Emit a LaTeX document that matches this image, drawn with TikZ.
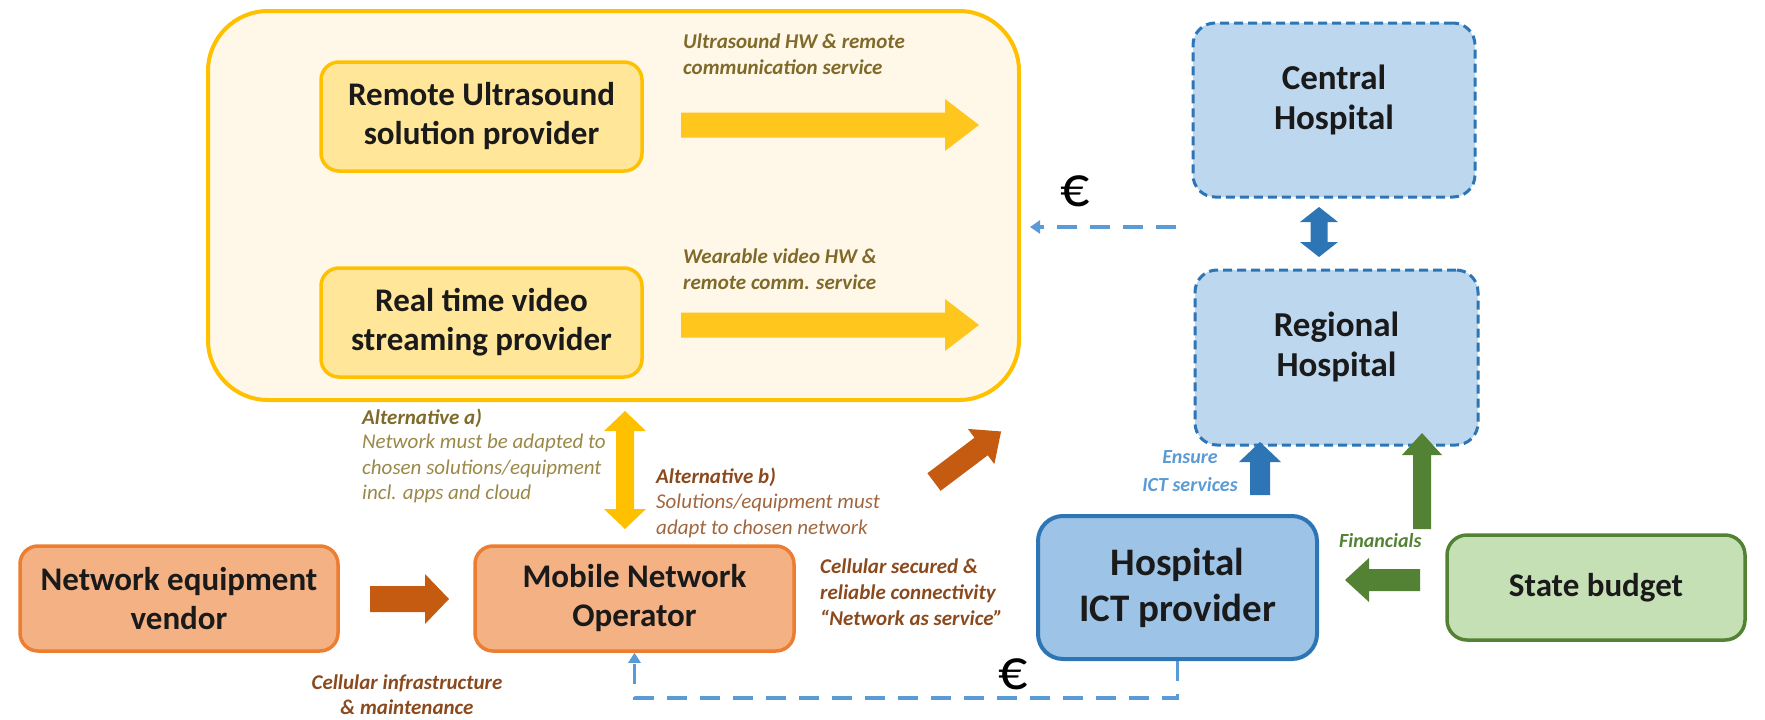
\documentclass[tikz,border=0pt]{standalone}
\usepackage{fontspec}
\setmainfont{Carlito}
\usetikzlibrary{arrows.meta,calc}
\definecolor{ybord}{HTML}{FFC000}
\definecolor{yfill}{HTML}{FFF7E8}
\definecolor{yinner}{HTML}{FFE699}
\definecolor{yarrow}{HTML}{FFC61E}
\definecolor{olivetxt}{HTML}{7F6A2A}
\definecolor{olivelt}{HTML}{9A8848}
\definecolor{obord}{HTML}{ED7D31}
\definecolor{ofill}{HTML}{F4B183}
\definecolor{oarrow}{HTML}{C55A11}
\definecolor{browntxt}{HTML}{8B4A1E}
\definecolor{brownlt}{HTML}{A0663E}
\definecolor{bbord}{HTML}{2E75B6}
\definecolor{bfill}{HTML}{9DC3E6}
\definecolor{bfilllt}{HTML}{BDD7EE}
\definecolor{blt}{HTML}{5B9BD5}
\definecolor{gbord}{HTML}{548235}
\definecolor{gfill}{HTML}{C5E0B4}
\definecolor{boxtxt}{HTML}{1A1A1A}
\newcommand\fsz[2]{\fontsize{#1}{#2}\selectfont}
% color, x, y, angle, length, shaft half, head half, head length
\newcommand\fatarr[8]{\fill[#1,shift={(#2,#3)},rotate=#4] (0,-#6) -- ({#5-#8},-#6) -- ({#5-#8},-#7) -- (#5,0) -- ({#5-#8},#7) -- ({#5-#8},#6) -- (0,#6) -- cycle;}
\newcommand\dblarr[8]{\fill[#1,shift={(#2,#3)},rotate=#4] (0,0) -- (#8,-#7) -- (#8,-#6) -- ({#5-#8},-#6) -- ({#5-#8},-#7) -- (#5,0) -- ({#5-#8},#7) -- ({#5-#8},#6) -- (#8,#6) -- (#8,#7) -- cycle;}
\newcommand\lift{\rule[-26pt]{0pt}{0pt}}
\tikzset{
  box/.style={rectangle, align=center, text=boxtxt, font=\bfseries\fsz{33}{39}, inner sep=0pt},
  ybox/.style={box, draw=ybord, fill=yinner, line width=3.5pt, rounded corners=18pt},
  obox/.style={box, draw=obord, fill=ofill, line width=3.5pt, rounded corners=18pt},
  hbox/.style={box, draw=bbord, fill=bfilllt, line width=3pt, dash pattern=on 9pt off 5pt, rounded corners=22pt, font=\bfseries\fsz{35}{40}},
  lbl/.style={inner sep=0pt, align=left, anchor=north west, font=\bfseries\itshape\fsz{21}{26}},
  lblr/.style={inner sep=0pt, align=left, anchor=north west, font=\itshape\fsz{21}{25.5}},
  euro/.style={inner sep=0pt, font=\fsz{58}{60}, text=black},
  money/.style={draw=blt, line width=3.5pt, dash pattern=on 20pt off 13pt},
}
\begin{document}
\begin{tikzpicture}[x=1pt,y=-1pt]
\useasboundingbox (0,0) rectangle (1765,720);
% outer yellow container
\node[draw=ybord, fill=yfill, line width=4pt, rounded corners=60pt, minimum width=811pt, minimum height=389pt, inner sep=0pt] (sol) at (613.5,205.5) {};
\node[ybox, minimum width=321pt, minimum height=109pt] (rus) at (481.5,116.5) {Remote Ultrasound\\solution provider};
\node[ybox, minimum width=321pt, minimum height=109pt] (rtv) at (481.5,322.5) {Real time video\\streaming provider};
\fatarr{yarrow}{681}{125}{0}{298}{12.5}{26}{34}
\fatarr{yarrow}{681}{325}{0}{298}{12.5}{26}{34}
\node[lbl, text=olivetxt] (l1) at (683,34) {Ultrasound HW \& remote\\communication service};
\node[lbl, text=olivetxt] (l2) at (683,249) {Wearable video HW \&\\remote comm. service};
% hospitals
\node[hbox, minimum width=282pt, minimum height=174pt] (ch) at (1334,110) {Central\\Hospital\lift};
\node[hbox, minimum width=283pt, minimum height=175pt] (rh) at (1336.5,357.5) {Regional\\Hospital\lift};
\dblarr{bbord}{1319}{257}{90}{50}{8.5}{19}{15}
\node[euro] (e1) at (1075,191) {€};
\coordinate (m1s) at (1176,227);
\coordinate (m1e) at (1030,227);
\draw[money, -{Triangle[length=10pt,width=13pt]}] (m1s) -- (m1e);
% alternatives
\dblarr{ybord}{625}{529}{90}{118}{9}{21}{20}
\node[lbl, text=olivetxt] (alta) at (362,409) {Alternative a)};
\node[lblr, text=olivelt, anchor=north west] (alta2) at (362,434) {Network must be adapted to\\chosen solutions/equipment\\incl. apps and cloud};
\node[lbl, text=browntxt] (altb) at (656,468) {Alternative b)};
\node[lblr, text=brownlt] (altb2) at (656,494) {Solutions/equipment must\\adapt to chosen network};
\fatarr{oarrow}{934}{482}{37}{84}{11}{22}{25}
% network row
\node[obox, minimum width=318pt, minimum height=105pt] (nev) at (179,598.5) {Network equipment\\vendor};
\node[obox, minimum width=319pt, minimum height=105pt] (mno) at (634.5,598.5) {Mobile Network\\Operator};
\fatarr{oarrow}{370}{599}{0}{79}{13}{25}{24}
\node[lbl, text=browntxt, align=center, anchor=north, font=\bfseries\itshape\fsz{21}{25}] (l3) at (407,675) {Cellular infrastructure\\\& maintenance};
\node[lbl, text=browntxt] (l4) at (820,559) {Cellular secured \&\\reliable connectivity\\“Network as service”};
% hospital ICT and budget
\node[box, draw=bbord, fill=bfill, line width=4pt, rounded corners=25pt, minimum width=279pt, minimum height=143pt, font=\bfseries\fsz{39}{46}] (hict) at (1177.5,587.5) {Hospital\\ICT provider};
\node[box, draw=gbord, fill=gfill, line width=3.5pt, rounded corners=20pt, minimum width=298pt, minimum height=105pt] (sb) at (1596,587.5) {State budget};
\fatarr{gbord}{1420}{580}{180}{75}{11}{22}{24}
\fatarr{gbord}{1422}{529}{90}{96}{9}{20}{22}
\node[lbl, text=gbord, font=\bfseries\itshape\fsz{20}{24}] (fin) at (1339,533) {Financials};
\fatarr{bbord}{1260}{495}{90}{53}{10}{21}{20}
\node[lbl, text=blt, align=center, anchor=north, font=\bfseries\itshape\fsz{20}{28}] (ens) at (1190,450) {Ensure\\ICT services};
% money flow to MNO
\draw[money, -{Triangle[length=10pt,width=12pt]}] (hict.south) -- ++(0,37) -| (mno.south);
\node[euro] (e2) at (1013,674) {€};
\end{tikzpicture}
\end{document}
